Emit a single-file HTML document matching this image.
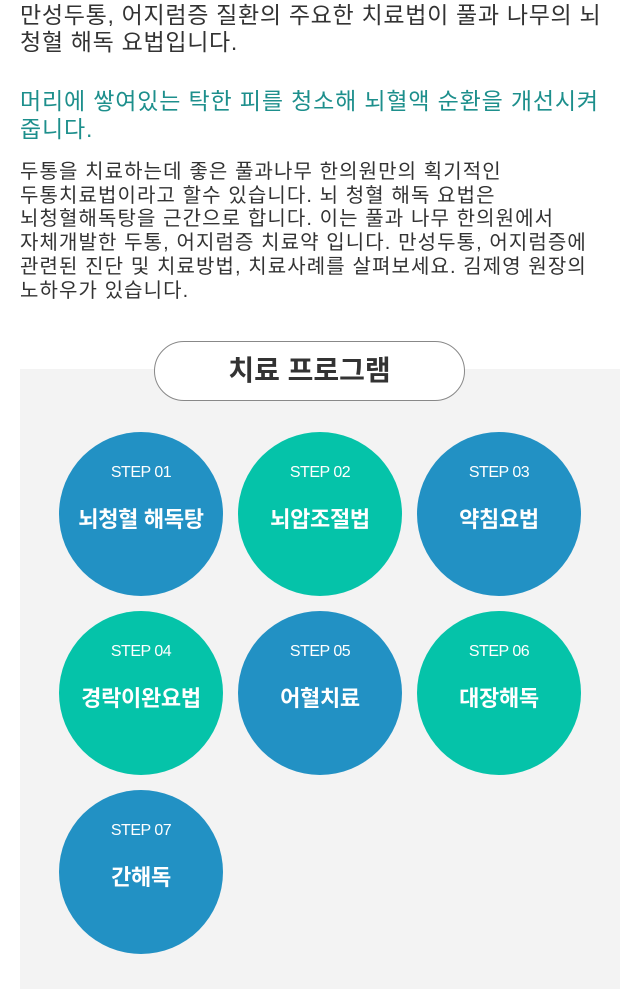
<!DOCTYPE html>
<html><head><meta charset="utf-8"><style>
html,body{margin:0;padding:0;background:#fff;width:640px;height:989px;overflow:hidden;position:relative;font-family:"Liberation Sans","Noto Sans CJK KR",sans-serif;}
.t1{position:absolute;left:20px;top:2px;font-size:23px;line-height:27px;color:#333;letter-spacing:0.7px;white-space:nowrap;}
.t2{position:absolute;left:20px;top:87px;font-size:23px;line-height:28px;color:#1d8f8c;letter-spacing:0.85px;white-space:nowrap;}
.t3{position:absolute;left:20px;top:161px;font-size:20px;line-height:23.7px;color:#333;letter-spacing:1.1px;white-space:nowrap;}
.bg{position:absolute;left:20px;top:369px;width:600px;height:620px;background:#f3f3f3;}
.pill{position:absolute;left:154px;top:341px;width:309px;height:58px;border:1px solid #888;border-radius:30px;background:#fff;text-align:center;line-height:58px;font-size:28px;font-weight:bold;color:#333;}
.c{position:absolute;width:164px;height:164px;border-radius:50%;color:#fff;text-align:center;}
.b{background:#2291c4}.g{background:#05c3a9}
.s{position:absolute;top:32px;left:0;width:100%;font-size:16px;letter-spacing:-0.5px;}
.n{position:absolute;top:70px;left:0;width:100%;font-size:22px;font-weight:bold;letter-spacing:-0.3px;}
</style></head><body>
<div class="t1">만성두통, 어지럼증 질환의 주요한 치료법이 풀과 나무의 뇌<br>청혈 해독 요법입니다.</div>
<div class="t2">머리에 쌓여있는 탁한 피를 청소해 뇌혈액 순환을 개선시켜<br>줍니다.</div>
<div class="t3">두통을 치료하는데 좋은 풀과나무 한의원만의 획기적인<br>두통치료법이라고 할수 있습니다. 뇌 청혈 해독 요법은<br>뇌청혈해독탕을 근간으로 합니다. 이는 풀과 나무 한의원에서<br>자체개발한 두통, 어지럼증 치료약 입니다. 만성두통, 어지럼증에<br>관련된 진단 및 치료방법, 치료사례를 살펴보세요. 김제영 원장의<br>노하우가 있습니다.</div>
<div class="bg"></div>
<div class="pill">치료 프로그램</div>
<div class="c b" style="left:59px;top:432px"><div class="s">STEP 01</div><div class="n">뇌청혈 해독탕</div></div>
<div class="c g" style="left:238px;top:432px"><div class="s">STEP 02</div><div class="n">뇌압조절법</div></div>
<div class="c b" style="left:417px;top:432px"><div class="s">STEP 03</div><div class="n">약침요법</div></div>
<div class="c g" style="left:59px;top:611px"><div class="s">STEP 04</div><div class="n">경락이완요법</div></div>
<div class="c b" style="left:238px;top:611px"><div class="s">STEP 05</div><div class="n">어혈치료</div></div>
<div class="c g" style="left:417px;top:611px"><div class="s">STEP 06</div><div class="n">대장해독</div></div>
<div class="c b" style="left:59px;top:790px"><div class="s">STEP 07</div><div class="n">간해독</div></div>
</body></html>
